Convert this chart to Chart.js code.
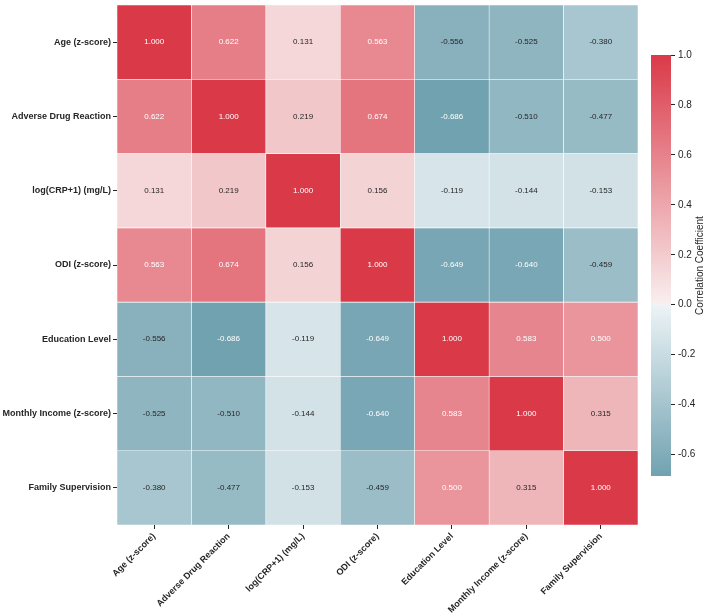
<!DOCTYPE html>
<html>
<head>
<meta charset="utf-8">
<script src="https://cdn.jsdelivr.net/npm/chart.js@4.4.1/dist/chart.umd.min.js"></script>
<style>
  html, body { margin: 0; padding: 0; background: #fff; }
  #wrap { position: relative; width: 708px; height: 616px; }
  #heat { position: absolute; left: 0; top: 0; }
  #cbar { position: absolute; left: 640px; top: 0; }
</style>
</head>
<body>
<div id="wrap">
  <canvas id="heat" width="708" height="616"></canvas>
  <canvas id="cbar" width="68" height="616"></canvas>
</div>
<script>
// variables (rows top to bottom, columns left to right)
const variables = [
  'Age (z-score)',
  'Adverse Drug Reaction',
  'log(CRP+1) (mg/L)',
  'ODI (z-score)',
  'Education Level',
  'Monthly Income (z-score)',
  'Family Supervision'
];

const rowAge     = [ 1.000,  0.622,  0.131,  0.563, -0.556, -0.525, -0.380];
const rowADR     = [ 0.622,  1.000,  0.219,  0.674, -0.686, -0.510, -0.477];
const rowCRP     = [ 0.131,  0.219,  1.000,  0.156, -0.119, -0.144, -0.153];
const rowODI     = [ 0.563,  0.674,  0.156,  1.000, -0.649, -0.640, -0.459];
const rowEdu     = [-0.556, -0.686, -0.119, -0.649,  1.000,  0.583,  0.500];
const rowIncome  = [-0.525, -0.510, -0.144, -0.640,  0.583,  1.000,  0.315];
const rowFamily  = [-0.380, -0.477, -0.153, -0.459,  0.500,  0.315,  1.000];
const corr = [rowAge, rowADR, rowCRP, rowODI, rowEdu, rowIncome, rowFamily];

// colour bar range and ticks
const cbMin = -0.686;
const cbMax = 1.0;
const cbTicks = [-0.6, -0.4, -0.2, 0.0, 0.2, 0.4, 0.6, 0.8, 1.0];

const FONT = '"Liberation Sans", Arial, Helvetica, sans-serif';
const DARK = '#262626';

// diverging palette, blue -> light grey -> red, centred on 0
const negEnd  = [57, 125, 144];
const negGray = [236, 243, 246];
const midGray = [242, 242, 242];
const posGray = [249, 239, 239];
const posEnd  = [218, 57, 72];

function mix(a, b, t) {
  return a.map((v, i) => Math.round(v + (b[i] - v) * t));
}
function rgb(c) { return `rgb(${c[0]},${c[1]},${c[2]})`; }
function colorFor(v) {
  if (v < 0) return rgb(mix(negGray, negEnd, Math.min(1, -v)));
  if (v > 0) return rgb(mix(posGray, posEnd, Math.min(1, v)));
  return rgb(midGray);
}
function textColor(v) {
  return (v >= 0.5 || v <= -0.6) ? '#ffffff' : DARK;
}

// cell labels
const annotate = {
  id: 'annotate',
  afterDatasetsDraw(chart) {
    const { ctx, scales: { x, y } } = chart;
    ctx.save();
    ctx.font = `8px ${FONT}`;
    ctx.textAlign = 'center';
    ctx.textBaseline = 'middle';
    corr.forEach((row, r) => {
      row.forEach((v, c) => {
        ctx.fillStyle = textColor(v);
        ctx.fillText(v.toFixed(3), x.getPixelForValue(c), y.getPixelForValue(r + 0.5));
      });
    });
    ctx.restore();
  }
};

new Chart(document.getElementById('heat'), {
  type: 'bar',
  data: {
    labels: variables,
    datasets: corr.map((row, r) => ({
      label: variables[r],
      data: row.map(() => [r, r + 1]),
      backgroundColor: row.map(colorFor),
      borderColor: 'rgba(255,255,255,0.85)',
      borderWidth: 0.6,
      borderSkipped: false,
      grouped: false,
      barPercentage: 1,
      categoryPercentage: 1
    }))
  },
  options: {
    responsive: false,
    animation: false,
    events: [],
    layout: { padding: { top: 5, right: 70, left: 0, bottom: 0 } },
    plugins: { legend: { display: false }, tooltip: { enabled: false } },
    scales: {
      x: {
        type: 'category',
        offset: true,
        border: { display: false },
        grid: { offset: false, drawOnChartArea: false, drawTicks: true, tickLength: 4, color: DARK },
        ticks: {
          autoSkip: false,
          minRotation: 45,
          maxRotation: 45,
          padding: 2,
          color: DARK,
          font: { family: FONT, size: 9, weight: 'bold' }
        },
        afterFit(axis) {
          axis.height = 91;
          axis.paddingLeft = 0;
          axis.paddingRight = 0;
        }
      },
      y: {
        type: 'linear',
        min: 0,
        max: 7,
        reverse: true,
        border: { display: false },
        grid: { drawOnChartArea: false, drawTicks: true, tickLength: 4, color: DARK },
        afterBuildTicks(axis) {
          axis.ticks = variables.map((_, i) => ({ value: i + 0.5 }));
        },
        ticks: {
          autoSkip: false,
          padding: 2,
          color: DARK,
          font: { family: FONT, size: 9, weight: 'bold' },
          callback: (value, index) => variables[index]
        },
        afterFit(axis) {
          axis.width = 117;
          axis.paddingTop = 0;
          axis.paddingBottom = 0;
        }
      }
    }
  },
  plugins: [annotate]
});

// colour bar title, reading bottom to top
const cbTitle = {
  id: 'cbTitle',
  afterDraw(chart) {
    const { ctx, chartArea } = chart;
    ctx.save();
    ctx.translate(60, (chartArea.top + chartArea.bottom) / 2);
    ctx.rotate(-Math.PI / 2);
    ctx.font = `10px ${FONT}`;
    ctx.fillStyle = DARK;
    ctx.textAlign = 'center';
    ctx.textBaseline = 'middle';
    ctx.fillText('Correlation Coefficient', 0, 0);
    ctx.restore();
  }
};

function cbGradient(context) {
  const chart = context.chart;
  const { chartArea, scales } = chart;
  if (!chartArea) return colorFor(0);
  const y = scales.y;
  const yBottom = y.getPixelForValue(cbMin);
  const yTop = y.getPixelForValue(cbMax);
  const g = chart.ctx.createLinearGradient(0, yBottom, 0, yTop);
  const t0 = (0 - cbMin) / (cbMax - cbMin);
  g.addColorStop(0, colorFor(cbMin));
  g.addColorStop(t0 - 0.002, rgb(negGray));
  g.addColorStop(t0, rgb(midGray));
  g.addColorStop(t0 + 0.002, rgb(posGray));
  g.addColorStop(1, colorFor(cbMax));
  return g;
}

new Chart(document.getElementById('cbar'), {
  type: 'bar',
  data: {
    labels: [''],
    datasets: [{
      data: [[cbMin, cbMax]],
      backgroundColor: cbGradient,
      borderWidth: 0,
      barPercentage: 1,
      categoryPercentage: 1
    }]
  },
  options: {
    responsive: false,
    animation: false,
    events: [],
    layout: { padding: { top: 55, bottom: 140, left: 11, right: 0 } },
    plugins: { legend: { display: false }, tooltip: { enabled: false } },
    scales: {
      x: { display: false },
      y: {
        type: 'linear',
        position: 'right',
        min: cbMin,
        max: cbMax,
        border: { display: false },
        grid: { drawOnChartArea: false, drawTicks: true, tickLength: 4, color: DARK },
        afterBuildTicks(axis) {
          axis.ticks = cbTicks.map(v => ({ value: v }));
        },
        ticks: {
          padding: 3,
          color: DARK,
          font: { family: FONT, size: 10 },
          callback: v => v.toFixed(1)
        },
        afterFit(axis) { axis.width = 37; }
      }
    }
  },
  plugins: [cbTitle]
});
</script>
</body>
</html>
